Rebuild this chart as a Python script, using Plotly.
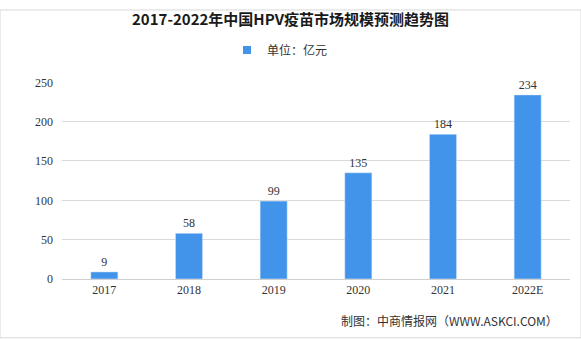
import plotly.graph_objects as go

categories = ["2017", "2018", "2019", "2020", "2021", "2022E"]
values = [9, 58, 99, 135, 184, 234]
series_name = "单位：亿元"
title_text = "2017-2022年中国HPV疫苗市场规模预测趋势图"
source_text = "制图：中商情报网（WWW.ASKCI.COM）"

bar_color = "#4194EA"
font_cn = "Noto Sans CJK SC"

fig = go.Figure()
fig.add_trace(go.Bar(
    x=categories, y=values, name=series_name,
    marker_color=bar_color, width=0.32,
    text=[str(v) for v in values], textposition="outside",
    textfont=dict(size=12, color="#333333", family="Liberation Serif"),
    cliponaxis=False, showlegend=False,
))
# legend entry with small square marker
fig.add_trace(go.Scatter(
    x=[None], y=[None], mode="markers", name=series_name,
    marker=dict(symbol="square", size=8, color=bar_color),
    showlegend=True,
))

fig.update_layout(
    width=581, height=340,
    margin=dict(l=62, r=11, t=75, b=61),
    paper_bgcolor="white", plot_bgcolor="white",
    title=dict(text="<b>" + title_text + "</b>", x=0.5, xanchor="center",
               y=1 - 20 / 340, yanchor="middle",
               font=dict(size=15, color="#1a1a1a", family=font_cn)),
    legend=dict(orientation="h", x=(280 - 62) / 508, xanchor="center", y=1 - 50 / 340,
                yanchor="middle", yref="container",
                font=dict(size=12, color="#333333", family=font_cn),
                itemwidth=30),
    xaxis=dict(showgrid=False, showline=True, linecolor="#d0d0d0", linewidth=1,
               ticks="", tickfont=dict(size=12, color="#333333", family="Liberation Serif")),
    yaxis=dict(range=[0, 250], dtick=50, showgrid=True, gridcolor="#d9d9d9",
               zeroline=False, showline=False, ticks="", ticklabelstandoff=8,
               tickfont=dict(size=12, color="#333333", family="Liberation Serif")),
    annotations=[dict(text=source_text, xref="paper", yref="paper",
                      x=(560 - 62) / 508, xanchor="right", y=-(322 - 279) / 204, yanchor="middle",
                      showarrow=False,
                      font=dict(size=12, color="#333333", family=font_cn))],
    shapes=[dict(type="rect", xref="paper", yref="paper",
                 x0=-62 / 508, x1=1 + 11 / 508, y0=-61 / 204, y1=1 + 75 / 204,
                 line=dict(color="#d8d8d8", width=1), fillcolor="rgba(0,0,0,0)")],
)

fig.write_html("out.html")
